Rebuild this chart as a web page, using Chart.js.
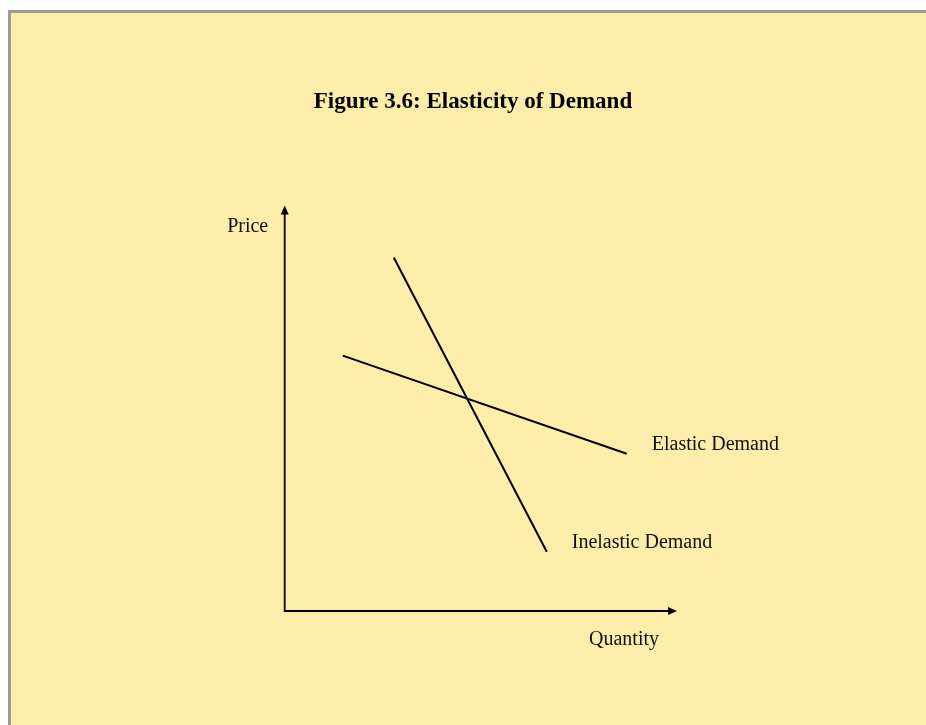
<!DOCTYPE html>
<html>
<head>
<meta charset="utf-8">
<title>Figure 3.6: Elasticity of Demand</title>
<script src="https://cdn.jsdelivr.net/npm/chart.js@4.4.1/dist/chart.umd.min.js"></script>
<style>
  html, body { margin: 0; padding: 0; background: #fff; }
  canvas { display: block; }
</style>
</head>
<body>
<canvas id="demand" width="926" height="725"></canvas>
<script>
// quantity / price pairs (arbitrary units)
const inelasticQty = [2.78, 6.68];
const inelasticPrice = [8.72, 1.46];
const elasticQty = [1.48, 8.72];
const elasticPrice = [6.30, 3.88];

const seriesNames = ['Inelastic Demand', 'Elastic Demand'];
const axisNames = ['Quantity', 'Price'];

const toPoints = (xs, ys) => xs.map((x, i) => ({ x: x, y: ys[i] }));

const serif = '"Liberation Serif", "Times New Roman", serif';

// yellow panel with grey frame
const framePlugin = {
  id: 'frame',
  beforeDraw(chart) {
    const ctx = chart.ctx;
    ctx.save();
    ctx.fillStyle = '#ffffff';
    ctx.fillRect(0, 0, chart.width, chart.height);
    ctx.fillStyle = '#9a9a9a';
    ctx.fillRect(8, 10, chart.width, chart.height);
    ctx.fillStyle = '#fcedaa';
    ctx.fillRect(11, 13, chart.width, chart.height);
    ctx.restore();
  }
};

function arrow(ctx, x, y, dir) {
  ctx.beginPath();
  if (dir === 'up') {
    ctx.moveTo(x, y);
    ctx.lineTo(x - 4, y + 9);
    ctx.lineTo(x + 4, y + 9);
  } else {
    ctx.moveTo(x, y);
    ctx.lineTo(x - 9, y - 4);
    ctx.lineTo(x - 9, y + 4);
  }
  ctx.closePath();
  ctx.fill();
}

// axes with arrow heads and the text labels
const axesPlugin = {
  id: 'axesLabels',
  afterDatasetsDraw(chart) {
    const ctx = chart.ctx;
    const xs = chart.scales.x, ys = chart.scales.y;
    const x0 = xs.getPixelForValue(0);
    const y0 = ys.getPixelForValue(0);
    const top = chart.chartArea.top;
    const right = chart.chartArea.right;

    ctx.save();
    ctx.strokeStyle = '#000';
    ctx.fillStyle = '#000';
    ctx.lineWidth = 1.8;
    ctx.beginPath();
    ctx.moveTo(x0, top + 6);
    ctx.lineTo(x0, y0);
    ctx.lineTo(right - 6, y0);
    ctx.stroke();
    arrow(ctx, x0, top, 'up');
    arrow(ctx, right, y0, 'right');

    ctx.font = '20px ' + serif;
    ctx.fillStyle = '#111';
    ctx.textBaseline = 'middle';
    ctx.textAlign = 'center';
    ctx.fillText(axisNames[1], x0 - 37, top + 21);
    ctx.fillText(axisNames[0], right - 53, y0 + 29);

    ctx.textAlign = 'left';
    chart.data.datasets.forEach((ds, i) => {
      const last = ds.data[ds.data.length - 1];
      const px = xs.getPixelForValue(last.x);
      const py = ys.getPixelForValue(last.y);
      ctx.fillText(seriesNames[i], px + 25, py - 9);
    });
    ctx.restore();
  }
};

new Chart(document.getElementById('demand'), {
  type: 'scatter',
  data: {
    datasets: [
      {
        label: seriesNames[0],
        data: toPoints(inelasticQty, inelasticPrice),
        showLine: true,
        borderColor: '#000',
        borderWidth: 2,
        pointRadius: 0
      },
      {
        label: seriesNames[1],
        data: toPoints(elasticQty, elasticPrice),
        showLine: true,
        borderColor: '#000',
        borderWidth: 2,
        pointRadius: 0
      }
    ]
  },
  options: {
    responsive: false,
    animation: false,
    layout: {
      padding: { top: 78, left: 269, right: 249, bottom: 114 }
    },
    scales: {
      x: { type: 'linear', min: -0.4, max: 10, display: false },
      y: { type: 'linear', min: 0, max: 10, display: false }
    },
    plugins: {
      legend: { display: false },
      tooltip: { enabled: false },
      title: {
        display: true,
        text: 'Figure 3.6: Elasticity of Demand',
        color: '#000',
        font: { family: serif, size: 23, weight: 'bold', lineHeight: 1.2 },
        padding: { top: 10, bottom: 90 }
      }
    }
  },
  plugins: [framePlugin, axesPlugin]
});
</script>
</body>
</html>
